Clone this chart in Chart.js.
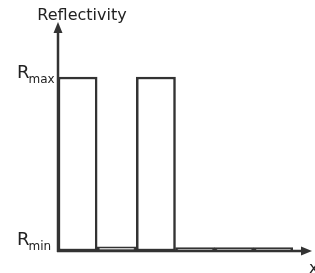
<!DOCTYPE html>
<html>
<head>
<meta charset="utf-8">
<script src="https://cdn.jsdelivr.net/npm/chart.js@4.4.0/dist/chart.umd.min.js"></script>
<style>
html,body{margin:0;padding:0;background:#fff;}
#wrap{width:315px;height:273px;position:relative;}
</style>
</head>
<body>
<div id="wrap"><canvas id="c" width="315" height="273"></canvas></div>
<script>
// Data
const categories = ["1", "2", "3", "4", "5", "6"];
const reflectivity = [1, 0.024, 1, 0.02, 0.02, 0.02];
const yLevels = [
  { value: 1, main: "R", sub: "max" },
  { value: 0, main: "R", sub: "min" }
];
const yTitle = "Reflectivity";
const xTitle = "x";

const INK = "#333333";
const FONT = "'DejaVu Sans', sans-serif";

const axesPlugin = {
  id: "axesPlugin",
  afterDatasetsDraw(chart) {
    const ctx = chart.ctx;
    const ys = chart.scales.y;
    const area = chart.chartArea;
    const x0 = area.left;
    const y0 = ys.getPixelForValue(0);
    ctx.save();
    ctx.strokeStyle = INK;
    ctx.fillStyle = INK;
    ctx.lineWidth = 2.5;
    // y axis
    ctx.beginPath();
    ctx.moveTo(x0, y0 + 1);
    ctx.lineTo(x0, area.top + 8);
    ctx.stroke();
    ctx.beginPath();
    ctx.moveTo(x0, area.top);
    ctx.lineTo(x0 - 4.5, area.top + 11);
    ctx.lineTo(x0 + 4.5, area.top + 11);
    ctx.closePath();
    ctx.fill();
    // x axis
    const xEnd = 312;
    ctx.beginPath();
    ctx.moveTo(x0 - 1, y0);
    ctx.lineTo(xEnd - 8, y0);
    ctx.stroke();
    ctx.beginPath();
    ctx.moveTo(xEnd, y0);
    ctx.lineTo(xEnd - 11, y0 - 4.5);
    ctx.lineTo(xEnd - 11, y0 + 4.5);
    ctx.closePath();
    ctx.fill();
    // labels
    ctx.fillStyle = "#222";
    ctx.textBaseline = "alphabetic";
    ctx.font = "16px " + FONT;
    ctx.textAlign = "center";
    ctx.fillText(yTitle, 82, 20);
    ctx.textAlign = "left";
    ctx.fillText(xTitle, 309, 273);
    yLevels.forEach(l => {
      const py = ys.getPixelForValue(l.value);
      const base = l.value > 0 ? py + 1 : py - 6;
      ctx.font = "18px " + FONT;
      ctx.textAlign = "left";
      ctx.fillText(l.main, 17, base);
      const rw = ctx.measureText(l.main).width;
      ctx.font = "12px " + FONT;
      ctx.fillText(l.sub, 17 + rw - 1, base + 5);
    });
    ctx.restore();
  }
};

new Chart(document.getElementById("c"), {
  type: "bar",
  data: {
    labels: categories,
    datasets: [{
      data: reflectivity,
      backgroundColor: "#ffffff",
      borderColor: INK,
      borderWidth: 2.5,
      categoryPercentage: 1,
      barPercentage: 1,
      borderSkipped: false
    }]
  },
  options: {
    responsive: false,
    animation: false,
    devicePixelRatio: 1,
    layout: { padding: { left: 58, right: 22, top: 22, bottom: 22 } },
    plugins: { legend: { display: false }, tooltip: { enabled: false } },
    scales: {
      x: { display: false },
      y: { display: false, min: 0, max: 1.316 }
    }
  },
  plugins: [axesPlugin]
});
</script>
</body>
</html>
